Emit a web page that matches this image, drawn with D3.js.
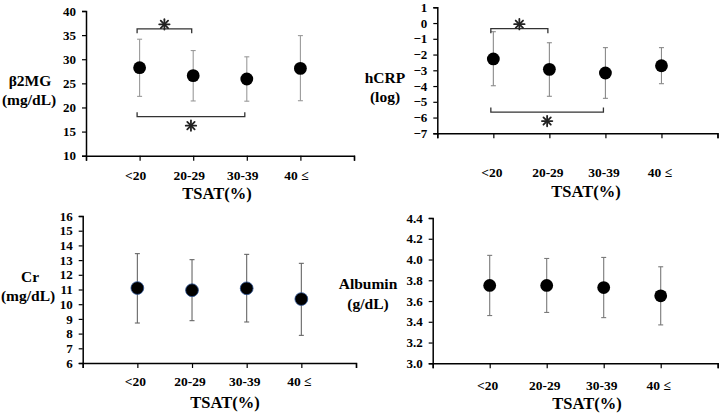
<!DOCTYPE html>
<html><head><meta charset="utf-8">
<script src="https://cdn.jsdelivr.net/npm/d3@7"></script>
<style>
html,body{margin:0;padding:0;background:#fff;}
svg{display:block;}
text{font-family:"Liberation Serif","Times New Roman",serif;font-weight:bold;fill:#000;}
</style></head>
<body><svg id="c" width="721" height="415"></svg>
<script>
// ---- data ----
const categories = ["<20", "20-29", "30-39", "40 \u2264"];
const xTitle = "TSAT(%)";

const b2mgMean = [28.25, 26.6, 25.9, 28.1];
const b2mgLow  = [22.3, 21.35, 21.3, 21.4];
const b2mgHigh = [34.15, 31.8, 30.5, 34.9];
const b2mgTicks = [10, 15, 20, 25, 30, 35, 40];

const hcrpMean = [-2.28, -2.94, -3.17, -2.71];
const hcrpLow  = [-3.98, -4.65, -4.78, -3.85];
const hcrpHigh = [-0.55, -1.25, -1.56, -1.56];
const hcrpTicks = [-7, -6, -5, -4, -3, -2, -1, 0, 1];

const crMean = [11.1, 10.95, 11.08, 10.35];
const crLow  = [8.72, 8.88, 8.79, 7.88];
const crHigh = [13.44, 13.03, 13.39, 12.78];
const crTicks = [6, 7, 8, 9, 10, 11, 12, 13, 14, 15, 16];

const albMean = [3.75, 3.75, 3.73, 3.65];
const albLow  = [3.46, 3.49, 3.44, 3.37];
const albHigh = [4.04, 4.01, 4.02, 3.93];
const albTicks = [3.0, 3.2, 3.4, 3.6, 3.8, 4.0, 4.2, 4.4];

// significance brackets: category index pairs and bracket level (data units)
const b2mgSig = [{a: 0, b: 1, level: 36.3, side: "top"}, {a: 0, b: 2, level: 18.1, side: "bottom"}];
const hcrpSig = [{a: 0, b: 1, level: -0.36, side: "top"}, {a: 0, b: 2, level: -5.65, side: "bottom"}];

// ---- drawing ----
const svg = d3.select("#c");

function asterisk(g, cx, cy) {
  const r = 5.2;
  const a = g.append("g").attr("stroke", "#222").attr("stroke-width", 1.8).attr("stroke-linecap", "round");
  for (let k = 0; k < 4; k++) {
    const t = k * Math.PI / 4;
    a.append("line")
      .attr("x1", cx - r * Math.cos(t)).attr("y1", cy - r * Math.sin(t))
      .attr("x2", cx + r * Math.cos(t)).attr("y2", cy + r * Math.sin(t));
  }
}

function panel(cfg) {
  const g = svg.append("g");
  const x = d3.scaleLinear().domain([0, 5]).range(cfg.xr);
  const y = d3.scaleLinear().domain(cfg.yd).range(cfg.yr);
  const x0 = cfg.xr[0], yb = cfg.yr[0];

  // y axis
  const ya = d3.axisLeft(y).tickValues(cfg.ticks).tickSize(4).tickPadding(6)
    .tickFormat(cfg.fmt || d3.format("d"));
  const yg = g.append("g").attr("transform", `translate(${x0},0)`).call(ya);
  yg.attr("font-family", null).attr("font-size", null);
  yg.select(".domain").attr("stroke", "#000").attr("stroke-width", 1.5);
  yg.selectAll(".tick line").attr("stroke", "#000").attr("stroke-width", 1.2);
  yg.selectAll(".tick text").attr("font-size", 13).attr("fill", "#000");

  // x axis
  const xa = d3.axisBottom(x).tickValues([0, 1, 2, 3, 4, 5]).tickSize(5).tickFormat("");
  const xg = g.append("g").attr("transform", `translate(0,${yb})`).call(xa);
  xg.select(".domain").attr("stroke", "#000").attr("stroke-width", 1.5);
  xg.selectAll(".tick line").attr("stroke", "#000").attr("stroke-width", 1.2);

  // category labels
  g.selectAll("text.cat").data(categories).enter().append("text")
    .attr("class", "cat")
    .attr("x", (d, i) => x(i + 1) + cfg.catDx)
    .attr("y", yb + cfg.catDy)
    .attr("text-anchor", "middle").attr("dominant-baseline", "central")
    .attr("font-size", 13.5).text(d => d);

  g.append("text").attr("x", cfg.titlePos[0]).attr("y", cfg.titlePos[1])
    .attr("text-anchor", "middle").attr("dominant-baseline", "central")
    .attr("font-size", 16.5).text(xTitle);

  // y label
  cfg.ylab.forEach((t, i) => {
    g.append("text").attr("x", cfg.ylabPos[i][0]).attr("y", cfg.ylabPos[i][1])
      .attr("text-anchor", "middle").attr("dominant-baseline", "central")
      .attr("font-size", 15.5).text(t);
  });

  // error bars
  const idx = d3.range(cfg.mean.length);
  const eb = g.append("g").attr("stroke", cfg.errColor).attr("stroke-width", 1.1).attr("fill", "none");
  idx.forEach(i => {
    const cx = x(i + 1);
    eb.append("line").attr("x1", cx).attr("x2", cx).attr("y1", y(cfg.low[i])).attr("y2", y(cfg.high[i]));
    eb.append("line").attr("x1", cx - 2.5).attr("x2", cx + 2.5).attr("y1", y(cfg.low[i])).attr("y2", y(cfg.low[i]));
    eb.append("line").attr("x1", cx - 2.5).attr("x2", cx + 2.5).attr("y1", y(cfg.high[i])).attr("y2", y(cfg.high[i]));
  });

  // points
  g.selectAll("circle").data(cfg.mean).enter().append("circle")
    .attr("cx", (d, i) => x(i + 1)).attr("cy", d => y(d)).attr("r", 6.4)
    .attr("fill", "#000")
    .attr("stroke", cfg.dotStroke || "none").attr("stroke-width", 0.8);

  // significance brackets
  (cfg.sig || []).forEach(s => {
    const xa1 = x(s.a + 1) - 2.5, xb1 = x(s.b + 1) - (s.side === "top" ? 1.5 : 2);
    const yl = y(s.level);
    const dy = s.side === "top" ? 4.5 : -4.5;
    g.append("path")
      .attr("d", `M${xa1},${yl + dy}V${yl}H${xb1}V${yl + dy}`)
      .attr("fill", "none").attr("stroke", "#333").attr("stroke-width", 1.3);
    const sx = (xa1 + xb1) / 2;
    const sy = s.side === "top" ? yl - 4.5 : yl + 9;
    asterisk(g, sx, sy);
  });
}

panel({xr: [86, 354], yd: [10, 40], yr: [155.7, 11], ticks: b2mgTicks,
  mean: b2mgMean, low: b2mgLow, high: b2mgHigh, errColor: "#9a9a9a",
  catDx: -4, catDy: 20, titlePos: [217, 193], ylab: ["\u03b22MG", "(mg/dL)"],
  ylabPos: [[30, 80], [29, 99]], sig: b2mgSig});

panel({xr: [437.3, 717.5], yd: [-7, 1], yr: [133.3, 7.3], ticks: hcrpTicks,
  mean: hcrpMean, low: hcrpLow, high: hcrpHigh, errColor: "#8a8a8a",
  catDx: -1.5, catDy: 39, titlePos: [586, 191], ylab: ["hCRP", "(log)"],
  ylabPos: [[385, 77], [385, 96]], sig: hcrpSig});

panel({xr: [82.7, 356], yd: [6, 16], yr: [363, 216], ticks: crTicks,
  mean: crMean, low: crLow, high: crHigh, errColor: "#666",
  catDx: -2, catDy: 18, titlePos: [225, 402], ylab: ["Cr", "(mg/dL)"],
  ylabPos: [[30, 276], [28, 295]], dotStroke: "#2f5597"});

panel({xr: [432.7, 717.7], yd: [3.0, 4.4], yr: [363.3, 218], ticks: albTicks,
  mean: albMean, low: albLow, high: albHigh, errColor: "#7a7a7a", fmt: d3.format(".1f"),
  catDx: -2, catDy: 22, titlePos: [587, 403.5], ylab: ["Albumin", "(g/dL)"],
  ylabPos: [[368, 283], [368, 303]]});
</script></body></html>
